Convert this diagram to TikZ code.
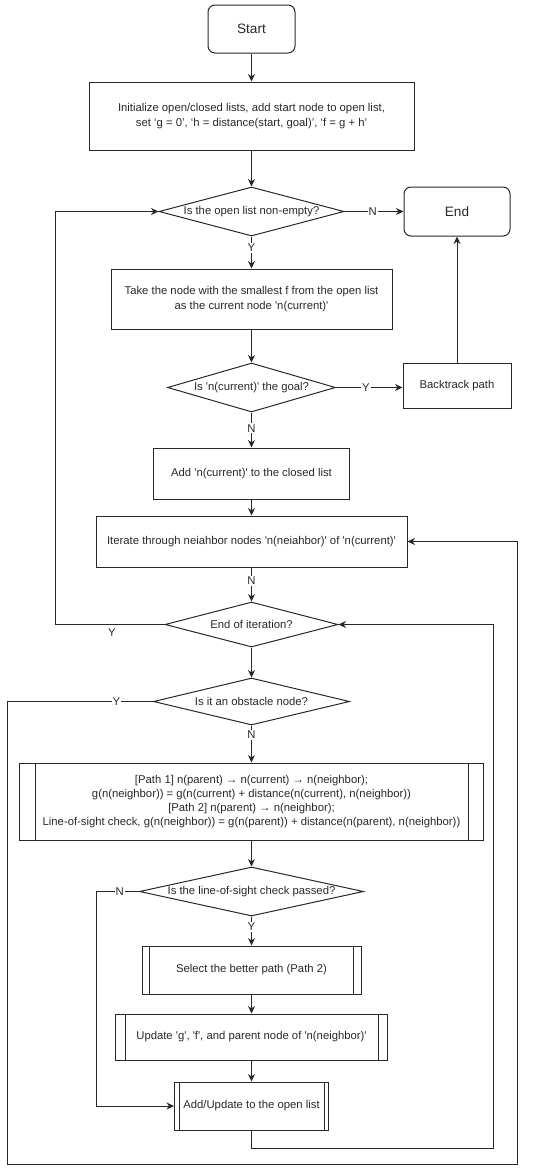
\documentclass[tikz,border=0pt]{standalone}
\usepackage{fontspec}
\setmainfont{Liberation Sans}
\usetikzlibrary{shapes.geometric,arrows.meta}
\newcommand{\q}{\textquotesingle}
\definecolor{ln}{RGB}{40,40,40}
\begin{document}
\begin{tikzpicture}[x=1pt,y=-1pt,
  every node/.style={font=\fontsize{11.3}{14.2}\selectfont, text=ln},
  base/.style={draw=ln, line width=1pt, inner sep=0pt, align=center},
  term/.style={base, rounded corners=7pt, font=\fontsize{13.6}{16}\selectfont},
  proc/.style={base, rectangle},
  dec/.style={base, diamond},
  arr/.style={draw=ln, line width=1pt, -{Stealth[length=7.5pt,width=7pt]}},
  lbl/.style={fill=white, inner sep=1pt}]
\useasboundingbox (0,0) rectangle (550,1170);
% nodes
\node[term, minimum width=87pt, minimum height=48pt] (start) at (251.5,29) {Start};
\node[proc, minimum width=325pt, minimum height=68pt] (init) at (251.5,116)
  {Initialize open/closed lists, add start node to open list,\\set ‘g = 0’, ‘h = distance(start, goal)’, ‘f = g + h’};
\node[dec, minimum width=185pt, minimum height=49pt, shape aspect=3.78] (d1) at (251.5,211.5) {Is the open list non-empty?};
\node[term, minimum width=106pt, minimum height=49pt] (end) at (457,211.5) {End};
\node[proc, minimum width=281pt, minimum height=60pt] (take) at (251.5,299)
  {Take the node with the smallest f from the open list\\as the current node \q n(current)\q};
\node[dec, minimum width=168pt, minimum height=49pt, shape aspect=3.43] (d2) at (251.5,387.5) {Is \q n(current)\q{} the goal?};
\node[proc, minimum width=108pt, minimum height=45pt] (back) at (457,385.5) {Backtrack path};
\node[proc, minimum width=196pt, minimum height=51pt] (add) at (251.5,473.5) {Add \q n(current)\q{} to the closed list};
\node[proc, minimum width=311pt, minimum height=51pt] (iter) at (251.5,541.5)
  {Iterate through neiahbor nodes \q n(neiahbor)\q{} of \q n(current)\q};
\node[dec, minimum width=173pt, minimum height=45pt, shape aspect=3.84] (d3) at (251.5,624.5) {End of iteration?};
\node[dec, minimum width=196pt, minimum height=47pt, shape aspect=4.17] (d4) at (251.5,701.5) {Is it an obstacle node?};
\node[proc, minimum width=464pt, minimum height=77pt] (path) at (251.5,801.5)
  {{[Path 1]} n(parent) → n(current) → n(neighbor);\\
   g(n(neighbor)) = g(n(current) + distance(n(current), n(neighbor))\\
   {[Path 2]} n(parent) → n(neighbor);\\
   Line-of-sight check, g(n(neighbor)) = g(n(parent)) + distance(n(parent), n(neighbor))};
\node[dec, minimum width=224pt, minimum height=49pt, shape aspect=4.57] (d5) at (251.5,891.5) {Is the line-of-sight check passed?};
\node[proc, minimum width=219pt, minimum height=48pt] (sel) at (251.5,970) {Select the better path (Path 2)};
\node[proc, minimum width=272pt, minimum height=46pt] (upd) at (251.5,1037) {Update \q g\q, \q f\q, and parent node of \q n(neighbor)\q};
\node[proc, minimum width=154pt, minimum height=48pt] (addu) at (251.5,1106) {Add/Update to the open list};
% inner lines of process shapes
\foreach \n/\d in {path/16, sel/8, upd/10, addu/5}{
  \draw[ln, line width=1pt] ([xshift=\d pt]\n.north west) -- ([xshift=\d pt]\n.south west);
  \draw[ln, line width=1pt] ([xshift=-\d pt]\n.north east) -- ([xshift=-\d pt]\n.south east);
}
% helper coordinates
\coordinate (lx) at (55,0);
\coordinate (ox) at (7,0);
\coordinate (rx) at (517,0);
\coordinate (r2) at (493,0);
\coordinate (nx) at (96,0);
\coordinate (bot) at (0,1164);
\coordinate (b2) at (0,1148);
% connectors
\draw[arr] (start) -- (init);
\draw[arr] (init) -- (d1);
\draw[arr] (d1) -- node[lbl, pos=0.35] {Y} (take);
\draw[arr] (d1.east) -- node[lbl, pos=0.48] {N} (end.west |- d1.east);
\draw[arr] (take) -- (d2);
\draw[arr] (d2.east) -- node[lbl, pos=0.45] {Y} (back.west |- d2.east);
\draw[arr] (back.north) -- (back.north |- end.south);
\draw[arr] (d2) -- node[lbl, pos=0.45] {N} (add);
\draw[arr] (add) -- (iter);
\draw[arr] (iter) -- node[lbl, pos=0.4] {N} (d3);
\draw[arr] (d3.west) -- (lx |- d3.west) -- (lx |- d1.west) -- (d1.west);
\node at (112,633) {Y};
\draw[arr] (d3) -- (d4);
\draw[arr] (d4) -- node[lbl, pos=0.25] {N} (path);
\draw[arr] (d4.west) -- node[lbl, pos=0.25] {Y} (ox |- d4.west) -- (ox |- bot) -- (rx |- bot) -- (rx |- iter.east) -- (iter.east);
\draw[arr] (path) -- (d5);
\draw[arr] (d5) -- node[lbl, pos=0.35] {Y} (sel);
\draw[arr] (d5.west) -- node[lbl, pos=0.45] {N} (nx |- d5.west) -- (nx |- addu.west) -- (addu.west);
\draw[arr] (sel) -- (upd);
\draw[arr] (upd) -- (addu);
\draw[arr] (addu.south) -- (addu.south |- b2) -- (r2 |- b2) -- (r2 |- d3.east) -- (d3.east);
\end{tikzpicture}
\end{document}
